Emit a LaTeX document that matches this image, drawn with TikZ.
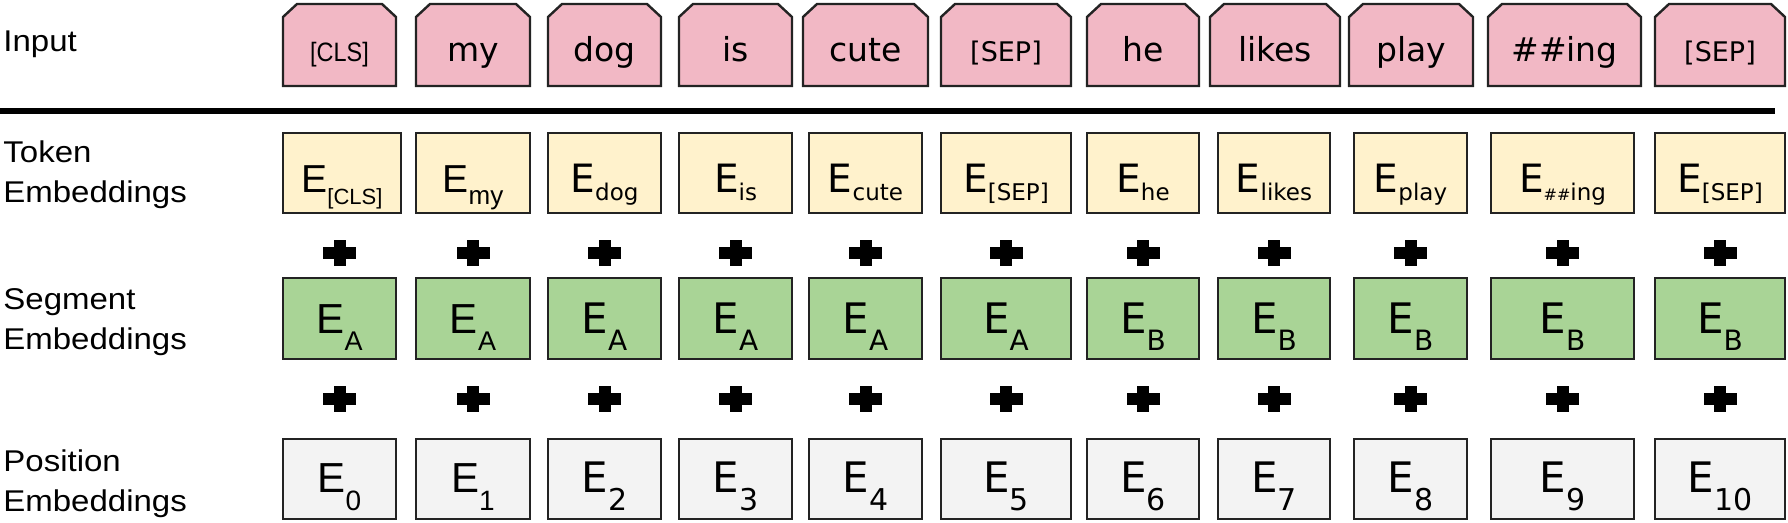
\documentclass[tikz,border=0pt]{standalone}
\usepackage{fontspec}
\setmainfont{Liberation Sans}
\newfontfamily\dvs{DejaVu Sans}
\newfontfamily\lbs{Liberation Sans}
\newfontfamily\lbsn[FakeStretch=0.88]{Liberation Sans}
\newfontfamily\lbl[FakeStretch=1.1]{Liberation Sans}
\usetikzlibrary{backgrounds}
\definecolor{inpink}{RGB}{242,184,197}
\definecolor{tokyel}{RGB}{255,242,204}
\definecolor{seggrn}{RGB}{169,212,150}
\definecolor{posgry}{RGB}{243,243,243}
\definecolor{edgec}{RGB}{35,35,35}
\newcommand{\EmbTxt}[5]{#1\fontsize{#2}{#2}\selectfont E\raisebox{-#4}{\fontsize{#3}{#3}\selectfont #5}}
\newcommand{\tokA}[1]{\EmbTxt{\lbs}{19.5pt}{13pt}{6pt}{#1}}
\newcommand{\tokD}[1]{\EmbTxt{\dvs}{19.5pt}{11.5pt}{4pt}{#1}}
\newcommand{\segA}[1]{\EmbTxt{\lbs}{21pt}{13.5pt}{8.5pt}{#1}}
\newcommand{\segD}[1]{\EmbTxt{\dvs}{21pt}{14pt}{8.5pt}{#1}}
\newcommand{\posA}[1]{\EmbTxt{\lbs}{21pt}{14pt}{9pt}{#1}}
\newcommand{\posD}[1]{\EmbTxt{\dvs}{21pt}{15pt}{9pt}{#1}}
\begin{document}
\begin{tikzpicture}[x=0.5pt,y=-0.5pt,
  inbox/.style={inner sep=0pt, outer sep=0pt, minimum height=41pt, text height=17pt, text depth=0pt,
    font=\dvs\fontsize{16.5pt}{16.5pt}\selectfont},
  inshape/.style={draw=edgec, line width=1.2pt, fill=inpink, line join=miter},
  tokbox/.style={draw=edgec, line width=1.2pt, fill=tokyel, inner sep=0pt, outer sep=0pt,
    minimum height=40pt, text height=20pt, text depth=0pt},
  segbox/.style={draw=edgec, line width=1.2pt, fill=seggrn, inner sep=0pt, outer sep=0pt,
    minimum height=40.5pt, text height=15pt, text depth=0pt},
  posbox/.style={draw=edgec, line width=1.2pt, fill=posgry, inner sep=0pt, outer sep=0pt,
    minimum height=40pt, text height=14pt, text depth=0pt},
  plusmark/.style={fill=black},
  rule/.style={line width=3pt, draw=black},
  lab/.style={font=\lbl\fontsize{15pt}{15pt}\selectfont, anchor=base west, inner sep=0pt}]
\useasboundingbox (0,0) rectangle (1788,523);
% left labels
\node[lab] (lin) at (3,52) {Input};
\node[lab] (ltok1) at (3,163) {Token};
\node[lab] (ltok2) at (3,203) {Embeddings};
\node[lab] (lseg1) at (3,310) {Segment};
\node[lab] (lseg2) at (3,350) {Embeddings};
\node[lab] (lpos1) at (3,472) {Position};
\node[lab] (lpos2) at (3,511) {Embeddings};
% separating rule
\coordinate (ruleL) at (0,111);
\coordinate (ruleR) at (1775,111);
\draw[rule] (ruleL) -- (ruleR);
% input tokens
\foreach \i/\l/\r/\txt in {
  1/283/396/{\lbsn\fontsize{13.3pt}{13.3pt}\selectfont [CLS]},
  2/416/530/my, 3/548/661/dog, 4/679/792/is, 5/803/928/cute,
  6/941/1071/{\fontsize{13.5pt}{13.5pt}\selectfont [SEP]},
  7/1087/1199/he, 8/1210/1340/likes, 9/1349/1473/play, 10/1488/1641/\#\#ing,
  11/1655/1785/{\fontsize{13.5pt}{13.5pt}\selectfont [SEP]}}
{
  \node[inbox, minimum width={(\r-\l)*0.5pt}] (in\i) at ({(\l+\r)/2},45) {\txt};
  \begin{scope}[on background layer]
    \draw[inshape] ([shift={(0,13)}]in\i.north west) -- ([shift={(14,0)}]in\i.north west)
      -- ([shift={(-14,0)}]in\i.north east) -- ([shift={(0,13)}]in\i.north east)
      -- (in\i.south east) -- (in\i.south west) -- cycle;
  \end{scope}
}
% embeddings
\foreach \i/\l/\r/\tr/\ff/\tk/\sg/\ps in {
  1/283/396/401/A/{\fontsize{11pt}{11pt}\selectfont [CLS]}/A/0,
  2/416/530/530/A/my/A/1,
  3/548/661/661/D/dog/A/2,
  4/679/792/792/D/is/A/3,
  5/809/922/922/D/cute/A/4,
  6/941/1071/1071/D/{[SEP]}/A/5,
  7/1087/1199/1199/D/he/B/6,
  8/1218/1330/1330/D/likes/B/7,
  9/1354/1467/1467/D/play/B/8,
  10/1491/1634/1634/D/{{\fontsize{8pt}{8pt}\selectfont\#\#}ing}/B/9,
  11/1655/1785/1785/D/{[SEP]}/B/10}
{
  \node[tokbox, minimum width={(\tr-\l)*0.5pt}] (t\i) at ({(\l+\tr)/2},173) {\csname tok\ff\endcsname{\tk}};
  \node[segbox, minimum width={(\r-\l)*0.5pt}] (s\i) at ({(\l+\r)/2},318.5) {\csname seg\ff\endcsname{\sg}};
  \node[posbox, minimum width={(\r-\l)*0.5pt}] (p\i) at ({(\l+\r)/2},479) {\csname pos\ff\endcsname{\ps}};
  \coordinate (pa\i) at ({(\l+\r)/2},253);
  \coordinate (pb\i) at ({(\l+\r)/2},399);
  \foreach \c in {pa\i,pb\i}{
    \fill[plusmark] ([shift={(-16.5,-6)}]\c) rectangle ([shift={(16.5,6)}]\c);
    \fill[plusmark] ([shift={(-6,-13)}]\c) rectangle ([shift={(6,13)}]\c);
  }
}
\end{tikzpicture}
\end{document}
